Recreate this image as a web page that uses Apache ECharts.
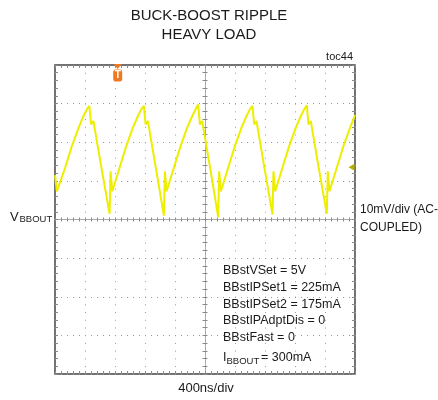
<!DOCTYPE html>
<html>
<head>
<meta charset="utf-8">
<script src="https://cdn.jsdelivr.net/npm/echarts@6/dist/echarts.min.js"></script>
<style>
  html, body { margin: 0; padding: 0; background: #fff; }
  #chart { width: 438px; height: 400px; }
</style>
</head>
<body>
<div id="chart"></div>
<script>
// time in ns from the centre of the screen, ripple in mV (AC coupled)
const timeNs = [
  -2000, -1975, -1955, -1865, -1775, -1685, -1620, -1575, -1542, -1519, -1488, -1465, -1375, -1272,
  -1259, -1236, -1228, -1139, -1050, -961, -894, -850, -815, -792, -761, -739, -650, -548,
  -535, -512, -504, -415, -326, -237, -170, -126, -91, -68, -37, -15, 74, 176,
  189, 212, 220, 309, 398, 487, 554, 598, 633, 656, 687, 709, 798, 900,
  913, 936, 944, 1033, 1122, 1211, 1278, 1322, 1357, 1380, 1411, 1433, 1522, 1624,
  1637, 1660, 1668, 1757, 1846, 1935, 2000
];
const rippleMv = [
  11.5, 7.3, 7.8, 13.4, 19.0, 23.8, 26.8, 28.5, 29.4, 24.6, 25.5, 22.9, 12.7, 1.5,
  12.5, 7.3, 7.8, 13.4, 19.0, 23.8, 26.8, 28.5, 29.4, 24.6, 25.5, 22.9, 12.7, 1.0,
  12.5, 7.3, 7.8, 13.4, 19.0, 23.8, 26.8, 28.5, 29.8, 24.6, 25.5, 22.9, 12.7, 0.6,
  12.5, 7.3, 7.8, 13.4, 19.0, 23.8, 26.8, 28.5, 29.4, 24.6, 25.5, 22.9, 12.7, 1.3,
  12.5, 7.3, 7.8, 13.4, 19.0, 23.8, 26.8, 28.5, 29.6, 24.6, 25.5, 22.9, 12.7, 1.5,
  12.5, 7.3, 7.8, 13.4, 19.0, 23.8, 27.0
];
const settings = [
  'BBstVSet = 5V',
  'BBstIPSet1 = 225mA',
  'BBstIPSet2 = 175mA',
  'BBstIPAdptDis = 0',
  'BBstFast = 0'
];
const triggerNs = -1164;
const offsetMarkerMv = 13.5;

const FONT = '"Liberation Sans", Arial, sans-serif';
const tickGray = '#8a8a8a';

function xAx(position, onZero, inside, len, split) {
  return {
    type: 'value', min: -2000, max: 2000, interval: 400, position: position,
    axisLine: { show: onZero, onZero: onZero, onZeroAxisIndex: 0, lineStyle: { color: '#aaa', width: 1 } },
    axisTick: { show: true, inside: inside, length: len, lineStyle: { color: tickGray } },
    minorTick: { show: true, splitNumber: 5, length: len, lineStyle: { color: tickGray } },
    axisLabel: { show: false },
    splitLine: { show: split, lineStyle: { color: '#999', width: 1, type: [1, 6.72] } }
  };
}
function yAx(position, onZero, inside, len, split) {
  return {
    type: 'value', min: -40, max: 40, interval: 10, position: position,
    axisLine: { show: onZero, onZero: onZero, onZeroAxisIndex: 0, lineStyle: { color: '#aaa', width: 1 } },
    axisTick: { show: true, inside: inside, length: len, lineStyle: { color: tickGray } },
    minorTick: { show: true, splitNumber: 5, length: len, lineStyle: { color: tickGray } },
    axisLabel: { show: false },
    splitLine: { show: split, lineStyle: { color: '#999', width: 1, type: [1, 5] } }
  };
}

function txt(x, y, text, size, align) {
  return {
    type: 'text', x: x, y: y, silent: true,
    style: {
      text: text, font: size + 'px ' + FONT, fill: '#1a1a1a',
      align: align || 'left', textAlign: align || 'left',
      verticalAlign: 'middle', textVerticalAlign: 'middle'
    }
  };
}

const graphics = [
  txt(209, 15.5, 'BUCK-BOOST RIPPLE', 15, 'center'),
  txt(209, 35, 'HEAVY LOAD', 15, 'center'),
  txt(353, 57, 'toc44', 11, 'right'),
  txt(10, 217, 'V', 13),
  txt(19.5, 219, 'BBOUT', 9.5),
  txt(360, 210, '10mV/div (AC-', 12),
  txt(360, 227.5, 'COUPLED)', 12),
  txt(206, 388, '400ns/div', 13, 'center'),
  txt(223, 357.5, 'I', 12.5),
  txt(226.5, 361, 'BBOUT', 9.5),
  txt(261, 357.5, '= 300mA', 12.5)
];
settings.forEach(function (s, i) {
  graphics.push(txt(223, 270.5 + i * 16.8, s, 12.5));
});

const chart = echarts.init(document.getElementById('chart'));
chart.setOption({
  animation: false,
  backgroundColor: '#fff',
  grid: { left: 55, top: 65, width: 300, height: 309, show: true, borderColor: '#444', borderWidth: 1.5 },
  xAxis: [
    xAx('bottom', false, true, 3, true),
    xAx('top', false, true, 3, false),
    xAx('bottom', true, false, 2, false),
    xAx('top', true, false, 2, false)
  ],
  yAxis: [
    yAx('left', false, true, 3, true),
    yAx('right', false, true, 3, false),
    yAx('left', true, false, 2.5, false),
    yAx('right', true, false, 2.5, false)
  ],
  series: [{
    type: 'line',
    xAxisIndex: 0,
    yAxisIndex: 0,
    data: timeNs.map(function (t, i) { return [t, rippleMv[i]]; }),
    showSymbol: false,
    lineStyle: { color: '#eeee00', width: 2 },
    silent: true,
    markPoint: {
      silent: true,
      label: { show: false },
      data: [
        { coord: [triggerNs, 40], symbol: 'triangle', symbolRotate: 180, symbolSize: [8, 5],
          symbolOffset: [0, 1.5], itemStyle: { color: '#f07820' } },
        { coord: [triggerNs, 40], symbol: 'roundRect', symbolSize: [9, 12],
          symbolOffset: [0, 10.5], itemStyle: { color: '#f07820' },
          label: { show: true, position: 'inside', formatter: 'T', color: '#fff',
                   fontSize: 10, fontWeight: 'bold', fontFamily: 'Liberation Sans' } },
        { coord: [2000, offsetMarkerMv], symbol: 'triangle', symbolRotate: 90, symbolSize: [7, 6],
          symbolOffset: [-3.5, 0], itemStyle: { color: '#b8b000' } }
      ]
    }
  }],
  graphic: graphics
});
</script>
</body>
</html>
